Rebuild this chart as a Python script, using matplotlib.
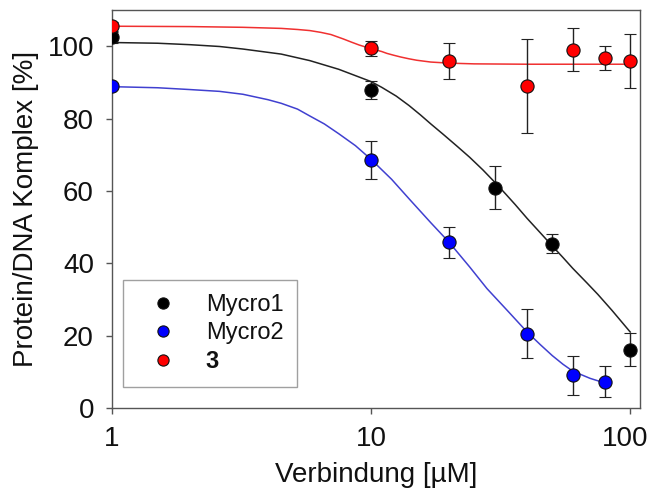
import numpy as np
import matplotlib
matplotlib.use("Agg")
import matplotlib.pyplot as plt
import matplotlib.transforms as mtransforms

plt.rcParams['font.family'] = ['Liberation Sans', 'DejaVu Sans']

# Messpunkte (Mittelwert, Fehler)
conc_m1 = [1, 10, 30, 50, 100]
val_m1 = [102.4, 87.8, 60.9, 45.4, 16.1]
err_m1 = [1.5, 2.5, 6.0, 2.6, 4.6]

conc_m2 = [1, 10, 20, 40, 60, 80]
val_m2 = [89.0, 68.5, 45.8, 20.5, 9.1, 7.3]
err_m2 = [0.8, 5.3, 4.3, 6.8, 5.4, 4.3]

conc_3 = [1, 10, 20, 40, 60, 80, 100]
val_3 = [105.5, 99.4, 95.9, 89.0, 99.0, 96.6, 95.9]
err_3 = [1.2, 2.1, 4.9, 12.9, 5.9, 3.3, 7.4]

# Fitkurven
fit_x_m1 = [1, 1.5, 2, 2.6, 3.2, 4.5, 5.8, 7.5, 10, 11, 12.5, 14, 15.5, 17, 19, 21.5, 24, 27, 30, 33,
            36, 40, 45, 50, 55, 60, 68, 75, 85, 100]
fit_y_m1 = [101.0, 100.8, 100.4, 99.9, 99.2, 97.8, 96.0, 93.6, 90.2, 88.6, 86.2, 83.6, 81.0, 78.5, 75.6, 72.3,
            69.3, 65.8, 62.4, 59.2, 56.2, 52.4, 48.4, 44.8, 41.6, 38.6, 34.6, 31.4, 27.0, 21.0]

fit_x_m2 = [1, 1.5, 2, 2.6, 3.2, 4, 4.5, 5.2, 5.8, 6.6, 7.5, 8.7, 10, 12, 14.1, 17, 20, 24, 28, 34,
            40, 45, 50, 55, 60, 70, 80]
fit_y_m2 = [88.8, 88.5, 88.0, 87.5, 86.7, 85.2, 84.2, 82.6, 80.7, 78.5, 75.8, 72.5, 68.7, 63.2, 57.6, 51.2,
            45.8, 39.0, 33.0, 26.5, 21.0, 17.5, 14.5, 12.1, 10.2, 8.2, 6.9]

fit_x_3 = [1, 2, 3.2, 4.5, 5.2, 5.8, 6.4, 7, 7.8, 8.4, 9, 10, 11, 11.5, 12.2, 13, 14, 15, 17, 20, 25, 40, 100]
fit_y_3 = [105.5, 105.4, 105.2, 104.9, 104.6, 104.3, 103.8, 103.2, 102.0, 101.1, 100.3, 99.3, 98.5, 98.0,
           97.5, 97.0, 96.5, 96.1, 95.6, 95.3, 95.1, 95.0, 95.0]

fig = plt.figure(figsize=(6.51, 4.97), dpi=100)
ax = fig.add_axes([0.172, 0.179, 0.811, 0.801])

ax.plot(fit_x_m1, fit_y_m1, color='#222222', lw=1.1, zorder=2)
ax.plot(fit_x_m2, fit_y_m2, color='#4040d0', lw=1.1, zorder=2)
ax.plot(fit_x_3, fit_y_3, color='#f03030', lw=1.1, zorder=2)

kw = dict(fmt='o', ms=9.5, mec='#111111', mew=0.8, ecolor='#222222',
          elinewidth=1.0, capsize=4, capthick=1.0, zorder=3)
ax.errorbar(conc_m1, val_m1, yerr=err_m1, mfc='black', label='Mycro1', **kw)
ax.errorbar(conc_m2, val_m2, yerr=err_m2, mfc='#0000ff', label='Mycro2', **kw)
ax.errorbar(conc_3, val_3, yerr=err_3, mfc='#ff0000', label='3', **kw)

ax.set_xscale('log')
ax.set_xlim(1, 109)
ax.set_ylim(0, 110)
ax.set_xticks([1, 10, 100])
ax.set_xticklabels(['1', '10', '100'])
ax.xaxis.set_minor_locator(matplotlib.ticker.NullLocator())
ax.set_yticks([0, 20, 40, 60, 80, 100])

for s in ax.spines.values():
    s.set_color('#555555')
    s.set_linewidth(1.0)
ax.tick_params(direction='out', length=4, width=1, color='#555555',
               labelsize=20, labelcolor='#111111')
ax.tick_params(axis='x', pad=9)
ax.tick_params(axis='y', pad=9)

# "100" am rechten Rand etwas nach links, damit es ganz im Bild bleibt
last = ax.get_xticklabels()[-1]
last.set_transform(last.get_transform() + mtransforms.ScaledTranslation(-4/72, 0, fig.dpi_scale_trans))

ax.set_xlabel('Verbindung [µM]', fontsize=20, color='#111111', labelpad=7)
ax.set_ylabel('Protein/DNA Komplex [%]', fontsize=20, color='#111111', labelpad=6)

handles, labels = ax.get_legend_handles_labels()
handles = [h[0] for h in handles]
leg = ax.legend(handles, labels, loc='lower left', bbox_to_anchor=(0.021, 0.053),
                borderaxespad=0, fontsize=17, frameon=True, fancybox=False,
                borderpad=0.6, handlelength=2.2, handletextpad=0.7,
                labelspacing=0.25, markerscale=0.85)
leg.get_frame().set_edgecolor('#888888')
leg.get_frame().set_linewidth(1.0)
for t in leg.get_texts():
    t.set_color('#111111')
leg.get_texts()[2].set_fontweight('bold')

fig.savefig('out.png', dpi=100)
